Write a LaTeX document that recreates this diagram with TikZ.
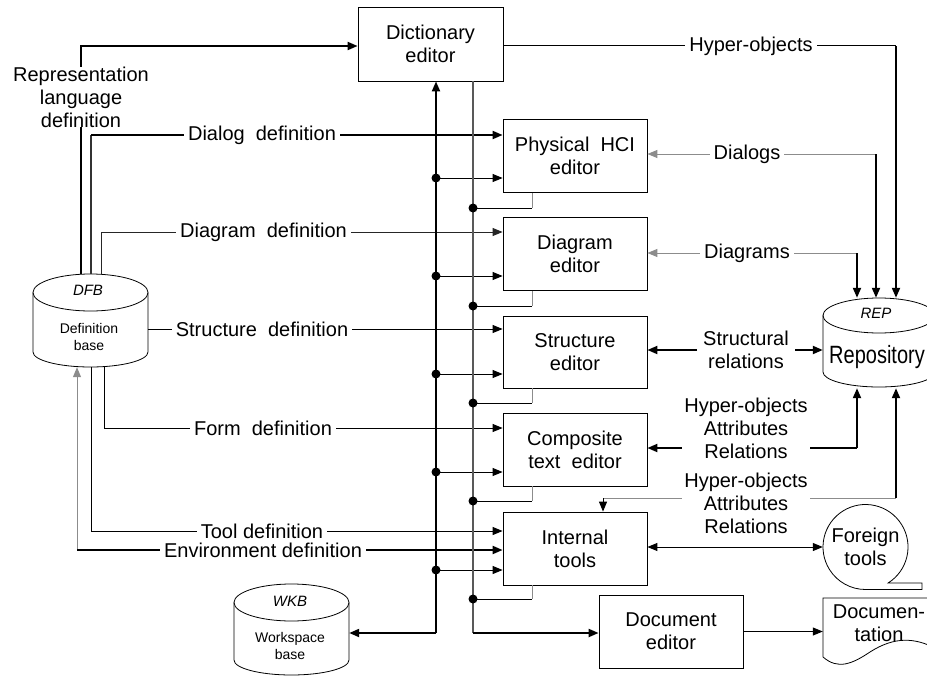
\documentclass[tikz,border=0pt]{standalone}
\usepackage{fontspec}
\setmainfont{Liberation Sans}
\usetikzlibrary{arrows.meta}
% cylinder outline: centre x, x radius, top y, top y radius, side bottom y, bottom y radius
\newcommand\drumshape[6]{%
  \draw[line width=0.8pt] (#1-#2,#3+#4) -- (#1-#2,#5)
    arc[start angle=180, end angle=0, x radius=#2, y radius=#6] -- (#1+#2,#3+#4);
  \draw[line width=0.8pt] (#1,#3+#4) ellipse[x radius=#2, y radius=#4];}
\begin{document}
\begin{tikzpicture}[x=1pt,y=-1pt,
  font=\fontsize{20}{23}\selectfont,
  >={Triangle[length=10pt,width=8pt]},
  thk/.style={line width=2pt},
  thn/.style={line width=1pt},
  gry/.style={line width=1pt, draw=black!45},
  busb/.style={line width=1.1pt, draw=black!65},
  box/.style={draw, line width=0.8pt, minimum width=144pt, minimum height=73pt,
              align=center, inner sep=0pt},
  lbl/.style={fill=white, inner xsep=4pt, inner ysep=1pt, align=center},
  small/.style={font=\fontsize{14}{17}\selectfont, align=center, inner sep=0pt},
  tag/.style={font=\fontsize{15}{17}\selectfont\itshape, inner sep=0pt},
]
\useasboundingbox (0,0) rectangle (927,677);
\clip (0,0) rectangle (927,677);

% ---- editors ----
\node[box, minimum width=145pt, minimum height=74pt] (dict) at (430.5,44) {Dictionary\\editor};
\node[box] (hci)    at (575,156)   {Physical\ \ HCI\\editor};
\node[box] (diag)   at (575,254)   {Diagram\\editor};
\node[box, minimum height=72pt] (struct) at (575,352) {Structure\\editor};
\node[box] (comp)   at (575,449.5) {Composite\\text\ \ editor};
\node[box] (intern) at (575,548.5) {Internal\\tools};
\node[box] (doced)  at (671,631.5) {Document\\editor};

% ---- data bases (cylinders) ----
\node[minimum width=115pt, minimum height=93pt, inner sep=0pt] (dfb) at (90.5,320.5) {};
\node[minimum width=115pt, minimum height=92pt, inner sep=0pt] (wkb) at (291.5,630) {};
\node[minimum width=112pt, minimum height=90pt, inner sep=0pt] (rep) at (879,343) {};
\drumshape{90.5}{57.5}{274}{18.5}{352}{15}
\drumshape{291.5}{57.5}{584}{18.5}{660}{15}
\drumshape{879}{56}{298}{17.5}{372}{15}
\node[tag] (dfbtag) at (88,290) {DFB};
\node[small] (dfbtxt) at (89,336.5) {Definition\\base};
\node[tag] (wkbtag) at (290,601) {WKB};
\node[small] (wkbtxt) at (290,646) {Workspace\\base};
\node[tag] (reptag) at (876,313) {REP};
\node[font=\fontsize{25}{25}\selectfont, xscale=0.8, anchor=base, inner sep=0pt] (reptxt) at (877,363) {Repository};

% ---- foreign tools (tape) ----
\node[circle, minimum size=85pt, inner sep=0pt, align=center] (foreign) at (865.5,547) {Foreign\\tools};
\draw[line width=0.8pt] (865.5,589.5) -- (922,589.5) -- (922,583) -- (888.1,583)
  arc[start angle=57.9, end angle=-270, radius=42.5];

% ---- documentation (document symbol) ----
\node[align=center, minimum width=112pt, inner sep=0pt] (docu) at (879,623) {Documen-\\tation};
\draw[line width=0.8pt] (823,657) -- (823,598) -- (935,598) -- (935,648)
  .. controls (915,638) and (895,636) .. (870,652)
  .. controls (852,664) and (838,670) .. (823,657);

% ---- definitions from the definition base ----
\draw[thk,->] ([xshift=-9.5pt]dfb.north) |- ([yshift=-2pt]dict.west);
\coordinate (dlgc) at (91,135);
\draw[line width=1.3pt, draw=black!80] ([xshift=0.5pt]dfb.north) -- (dlgc);
\draw[thk,->] (dlgc) -- ([yshift=21pt]hci.west);
\draw[thn,->, draw=black!85] ([xshift=10.5pt]dfb.north) |- ([yshift=22pt]diag.west);
\draw[thn,->] ([yshift=-8.5pt]dfb.east) -- ([yshift=23pt]struct.west);
\draw[thn,->] ([xshift=13.5pt]dfb.south) |- ([yshift=21.5pt]comp.west);
\draw[thn,->] ([xshift=0.5pt]dfb.south) |- ([yshift=17.5pt]intern.west);
\coordinate (envc) at (77,550);
\draw[gry,->] (envc) -- ([xshift=-13.5pt]dfb.south);
\draw[thk,->] (envc) -- ([yshift=-1.5pt]intern.west);

% ---- dictionary bus ----
\coordinate (b1) at (436,633);
\draw[thk,->] (b1) -- (b1 |- dict.south);
\draw[thk,->] (b1) -- (b1 -| wkb.east);
\foreach \b/\y in {hci/178, diag/276, struct/374, comp/472, intern/570} {
  \coordinate (k\b) at (436,\y);
  \draw[thn,->] (k\b) -- (k\b -| \b.west);
  \fill (k\b) circle (4.5);
}

% ---- document bus ----
\coordinate (b2) at (473,633);
\draw[busb] (b2 |- dict.south) -- (b2);
\draw[thk,->] (b2) -- (b2 -| doced.west);
\foreach \b/\y in {hci/208, diag/306, struct/403, comp/501, intern/599} {
  \coordinate (m\b) at (473,\y);
  \coordinate (s\b) at ([xshift=-43pt]\b.south);
  \draw[gry] (s\b) -- (s\b |- m\b);
  \draw[thn] (m\b) -- (s\b |- m\b);
  \fill (m\b) circle (4.5);
}

% ---- repository links ----
\coordinate (hoc) at (896,46);
\draw[thn] ([yshift=-2pt]dict.east) -- (hoc);
\draw[thk,->] (hoc) -- ([xshift=17pt]rep.north);
\coordinate (dlc) at (876,154);
\draw[gry,->] (dlc) -- ([yshift=2pt]hci.east);
\draw[thk,->] (dlc) -- ([xshift=-3pt]rep.north);
\coordinate (dgc) at (857,253);
\draw[gry,->] (dgc) -- ([yshift=1pt]diag.east);
\draw[thk,->] (dgc) -- ([xshift=-22pt]rep.north);

\node[align=center, inner xsep=6pt, inner ysep=0pt] (srl) at (746,350) {Structural\\relations};
\draw[thk,->] (srl.west) -- (srl.west -| struct.east);
\draw[thk,->] (srl.east) -- (srl.east -| rep.west);

\coordinate (cc) at (857,448);
\draw[thk,->] (cc) -- ([yshift=1.5pt]comp.east);
\draw[thk,->] (cc) -- ([xshift=-22pt]rep.south);

\coordinate (ic) at (896,498);
\coordinate (il) at (603,498);
\draw[gry] (ic) -- (il);
\draw[thk,->] (ic) -- ([xshift=17pt]rep.south);
\draw[thn,->] (il) -- (il |- intern.north);

\draw[thn,<->] (foreign.west -| intern.east) -- (foreign.west);
\draw[thn,->] (doced.east) -- (doced.east -| docu.west);

% ---- labels on the connectors ----
\node[lbl, inner sep=0pt] (rld) at (81,97) {Representation\\language\\definition};
\node[lbl] (ldlg)  at (262,135)   {Dialog\ \ definition};
\node[lbl] (ldgm)  at (263.5,232) {Diagram\ \ definition};
\node[lbl] (lstr)  at (262,329)   {Structure\ \ definition};
\node[lbl] (lfrm)  at (263,428)   {Form\ \ definition};
\node[lbl] (ltool) at (262,531)   {Tool definition};
\node[lbl] (lenv)  at (263,550)   {Environment definition};
\node[lbl] (lhyp)  at (751,46)    {Hyper-objects};
\node[lbl] (ldlgs) at (747,154)   {Dialogs};
\node[lbl] (ldgms) at (747,253)   {Diagrams};
\node[lbl, inner xsep=2pt] (lhar1) at (746,428.5) {Hyper-objects\\Attributes\\Relations};
\node[lbl, inner xsep=2pt] (lhar2) at (746,503)   {Hyper-objects\\Attributes\\Relations};
\end{tikzpicture}
\end{document}
